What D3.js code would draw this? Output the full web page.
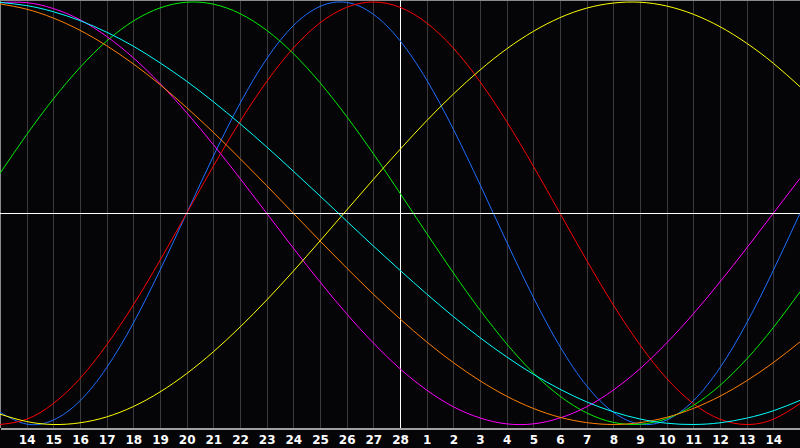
<!DOCTYPE html>
<html>
<head>
<meta charset="utf-8">
<script src="https://cdn.jsdelivr.net/npm/d3@7"></script>
<style>
html,body{margin:0;padding:0;background:#050508;overflow:hidden;}
svg{display:block;}
</style>
</head>
<body>
<svg id="chart" width="800" height="448"></svg>
<script>
// Day labels for each day column (index 0..30); first and last are not printed
const dayLabels = [13,14,15,16,17,18,19,20,21,22,23,24,25,26,27,28,1,2,3,4,5,6,7,8,9,10,11,12,13,14,15];

// Series values (-1 .. 1) at each day column
const physical = [-0.942,-0.998,-0.979,-0.888,-0.731,-0.520,-0.270,0,0.270,0.520,0.731,0.888,0.979,0.998,0.942,0.817,0.631,0.398,0.136,-0.136,-0.398,-0.631,-0.817,-0.942,-0.998,-0.979,-0.888,-0.731,-0.520,-0.270,0];
const emotional = [-1.000,-0.975,-0.901,-0.782,-0.623,-0.434,-0.223,0,0.223,0.434,0.623,0.782,0.901,0.975,1.000,0.975,0.901,0.782,0.623,0.434,0.223,0,-0.223,-0.434,-0.623,-0.782,-0.901,-0.975,-1.000,-0.975,-0.901];
const intellectual = [0.189,0.372,0.541,0.690,0.815,0.910,0.972,0.999,0.990,0.945,0.866,0.756,0.618,0.458,0.282,0.095,-0.095,-0.282,-0.458,-0.618,-0.756,-0.866,-0.945,-0.990,-0.999,-0.972,-0.910,-0.815,-0.690,-0.541,-0.372];
const intuitive = [0.997,0.997,0.969,0.916,0.837,0.736,0.614,0.476,0.325,0.165,0,-0.165,-0.325,-0.476,-0.614,-0.736,-0.837,-0.916,-0.969,-0.997,-0.997,-0.969,-0.916,-0.837,-0.736,-0.614,-0.476,-0.325,-0.165,0,0.165];
const aesthetic = [-0.951,-0.986,-1.000,-0.992,-0.964,-0.915,-0.846,-0.759,-0.656,-0.539,-0.411,-0.274,-0.131,0.015,0.160,0.302,0.438,0.564,0.678,0.778,0.861,0.926,0.971,0.995,0.999,0.981,0.942,0.883,0.805,0.710,0.599];
const awareness = [0.991,0.966,0.924,0.866,0.793,0.707,0.609,0.500,0.383,0.259,0.131,0,-0.131,-0.259,-0.383,-0.500,-0.609,-0.707,-0.793,-0.866,-0.924,-0.966,-0.991,-1.000,-0.991,-0.966,-0.924,-0.866,-0.793,-0.707,-0.609];
const spiritual = [0.998,0.983,0.954,0.912,0.857,0.791,0.712,0.625,0.528,0.424,0.314,0.199,0.082,-0.037,-0.155,-0.270,-0.382,-0.489,-0.589,-0.680,-0.762,-0.833,-0.893,-0.940,-0.974,-0.994,-1.000,-0.992,-0.970,-0.935,-0.886];

const seriesNames = ["physical","emotional","intellectual","intuitive","aesthetic","awareness","spiritual"];
const seriesColors = ["#1e6eff","#ff0000","#00ee00","#ff00ff","#ffff00","#ff8000","#00ffff"];
const seriesData = [physical, emotional, intellectual, intuitive, aesthetic, awareness, spiritual];

const svg = d3.select("#chart");
const W = 800;
const plotBottom = 428;

const x = d3.scaleLinear().domain([0, dayLabels.length - 1]).range([0, W]);
const y = d3.scaleLinear().domain([-1, 1]).range([424.5, 2]);

svg.append("rect").attr("width", 800).attr("height", 448).attr("fill", "#050508");

// vertical grid lines
const gridIdx = d3.range(1, dayLabels.length - 1);
svg.append("g").selectAll("line").data(gridIdx).join("line")
  .attr("x1", d => Math.round(x(d)) + 0.5).attr("x2", d => Math.round(x(d)) + 0.5)
  .attr("y1", 0).attr("y2", plotBottom)
  .attr("stroke", "#3a3a3a").attr("stroke-width", 1)
  .attr("shape-rendering", "crispEdges");

// frame: top, left
svg.append("line").attr("x1", 0).attr("x2", W).attr("y1", 0.5).attr("y2", 0.5)
  .attr("stroke", "#8a8a8a").attr("shape-rendering", "crispEdges");
svg.append("line").attr("x1", 0.5).attr("x2", 0.5).attr("y1", 0).attr("y2", plotBottom)
  .attr("stroke", "#8a8a8a").attr("shape-rendering", "crispEdges");

// today line (white)
const todayIdx = 15;
svg.append("line").attr("x1", Math.round(x(todayIdx)) + 0.5).attr("x2", Math.round(x(todayIdx)) + 0.5)
  .attr("y1", 0).attr("y2", plotBottom)
  .attr("stroke", "#ffffff").attr("shape-rendering", "crispEdges");

// curves
const line = d3.line().x((d, i) => x(i)).y(d => y(d)).curve(d3.curveNatural);
svg.append("g").selectAll("path").data(seriesData).join("path")
  .attr("d", d => line(d))
  .attr("fill", "none")
  .attr("stroke", (d, i) => seriesColors[i])
  .attr("stroke-width", 1);

// zero line (white)
svg.append("line").attr("x1", 0).attr("x2", W)
  .attr("y1", Math.round(y(0)) + 0.5).attr("y2", Math.round(y(0)) + 0.5)
  .attr("stroke", "#ffffff").attr("shape-rendering", "crispEdges");

// bottom axis
const axis = d3.axisBottom(x)
  .tickValues(gridIdx)
  .tickFormat(i => dayLabels[i])
  .tickSize(0)
  .tickPadding(7);
const g = svg.append("g").attr("transform", `translate(0,${plotBottom})`).call(axis);
g.select(".domain").attr("stroke", "#a0a0a0").attr("stroke-width", 2).attr("shape-rendering", "crispEdges");
g.selectAll("text")
  .attr("fill", "#ffffff")
  .style("font-family", "'DejaVu Sans', sans-serif")
  .style("font-weight", "bold")
  .style("font-size", "12px");
</script>
</body>
</html>
